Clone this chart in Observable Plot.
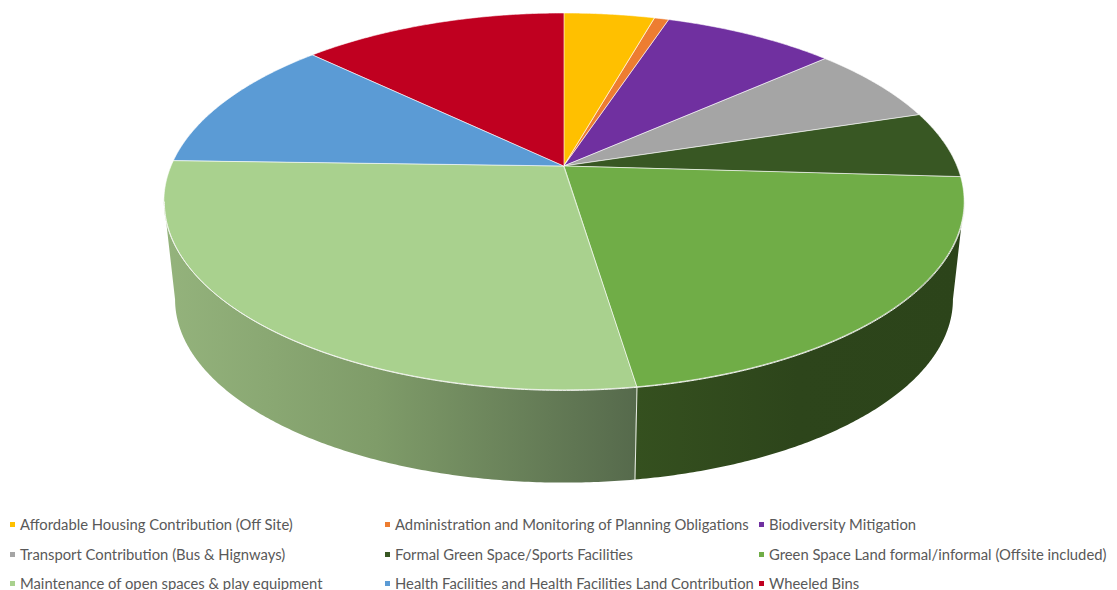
<!DOCTYPE html>
<html>
<head>
<meta charset="utf-8">
<script src="https://cdn.jsdelivr.net/npm/d3@7"></script>
<script src="https://cdn.jsdelivr.net/npm/@observablehq/plot@0.6"></script>
<style>
  html, body { margin: 0; padding: 0; background: #fff; overflow: hidden; width: 1117px; height: 590px; }
  #chart svg { display: block; }
  #legend { position: absolute; left: 0; top: 509px; width: 1117px; height: 81px;
            font-family: Lato, "Open Sans", sans-serif; font-size: 14.8px; color: #595959; }
  #legend .item { position: absolute; white-space: nowrap; height: 30px; line-height: 30px; }
  #legend .sw { position: absolute; left: -10px; top: 13px; width: 5px; height: 5px; }
</style>
</head>
<body>
<div id="chart"></div>
<div id="legend"></div>
<script>
const categories = [
  "Affordable Housing Contribution (Off Site)",
  "Administration and Monitoring of Planning Obligations",
  "Biodiversity Mitigation",
  "Transport Contribution (Bus & Hignways)",
  "Formal Green Space/Sports Facilities",
  "Green Space Land formal/informal (Offsite included)",
  "Maintenance of open spaces & play equipment",
  "Health Facilities and Health Facilities Land Contribution",
  "Wheeled Bins"
];
const shares = [4.4, 0.7, 8.35, 6.75, 5.75, 21.65, 27.9, 11.65, 12.85];
const colors = ["#FFC000", "#ED7D31", "#7030A0", "#A5A5A5", "#385723", "#70AD47", "#A9D18E", "#5B9BD5", "#C00020"];

// Tilted-disc view settings
const tilt = 0.188, shrink = 0.972, drop = 0.539;
const rimCentre = -tilt / (1 - tilt * tilt);
const silhouette = Math.acos(-tilt);

const top3d = t => {
  const w = 1 + tilt * Math.cos(t);
  return [Math.sin(t) / w, Math.cos(t) / w];
};
const base3d = t => {
  const [x, y] = top3d(t);
  return [x * shrink, (y - rimCentre) * shrink + rimCentre - drop];
};

const arcs = d3.pie().sort(null).value(d => d)(shares);
const sweep = (a, b) => {
  const n = Math.max(2, Math.ceil((b - a) / (Math.PI / 360)));
  return d3.range(n + 1).map(i => a + (b - a) * i / n);
};

const topRows = arcs.flatMap((s, i) => sweep(s.startAngle, s.endAngle).map(t => {
  const [x, y] = top3d(t);
  return { name: categories[i], x, y };
}));

const wallRows = (from, to) => sweep(from, to).map(t => {
  const [x1, y1] = top3d(t), [x2, y2] = base3d(t);
  return { x1, y1, x2, y2 };
});
const rightWall = wallRows(silhouette, arcs[5].endAngle);
const leftWall = wallRows(arcs[6].startAngle, 2 * Math.PI - silhouette);
const seam = (() => {
  const t = arcs[6].startAngle;
  const [x1, y1] = top3d(t), [x2, y2] = base3d(t);
  return [{ x: x1, y: y1 }, { x: x2, y: y2 }];
})();
const rim = sweep(silhouette, 2 * Math.PI - silhouette).map(t => {
  const [x, y] = top3d(t);
  return { x, y };
});

const gradients = () => {
  const defs = d3.create("svg:defs");
  const add = (id, x1, x2, stops) => {
    const g = defs.append("linearGradient").attr("id", id)
      .attr("gradientUnits", "userSpaceOnUse")
      .attr("x1", x1).attr("x2", x2).attr("y1", 0).attr("y2", 0);
    stops.forEach(([o, c]) => g.append("stop").attr("offset", o).attr("stop-color", c));
  };
  add("wall-left", 165, 636, [[0, "#94B37C"], [0.45, "#7F9C69"], [1, "#566A4C"]]);
  add("wall-right", 636, 960, [[0, "#35501F"], [0.5, "#2D451B"], [1, "#2C441A"]]);
  return defs.node();
};

const chart = Plot.plot({
  width: 1117,
  height: 509,
  margin: 0,
  x: { axis: null, domain: [-1, 1], range: [171, 957] },
  y: { axis: null, domain: [-1, 1], range: [347.8, -15.8] },
  color: { domain: categories, range: colors },
  marks: [
    gradients,
    Plot.area(leftWall, { x1: "x1", y1: "y1", x2: "x2", y2: "y2", fill: "url(#wall-left)" }),
    Plot.area(rightWall, { x1: "x1", y1: "y1", x2: "x2", y2: "y2", fill: "url(#wall-right)" }),
    Plot.line(seam, { x: "x", y: "y", stroke: "#e8ece4", strokeWidth: 1 }),
    Plot.area(topRows, {
      x1: () => 0, y1: () => 0, x2: "x", y2: "y", z: "name", fill: "name",
      stroke: "#fff", strokeWidth: 0.8, strokeOpacity: 0.75
    }),
    Plot.line(rim, { x: "x", y: "y", stroke: "#f2f5ee", strokeWidth: 1 })
  ]
});
document.getElementById("chart").append(chart);

const legendX = [20, 395, 769];
const legend = document.getElementById("legend");
categories.forEach((name, i) => {
  const item = document.createElement("div");
  item.className = "item";
  item.style.left = legendX[i % 3] + "px";
  item.style.top = Math.floor(i / 3) * 29.5 + "px";
  const sw = document.createElement("span");
  sw.className = "sw";
  sw.style.background = colors[i];
  item.append(sw, document.createTextNode(name));
  legend.append(item);
});
</script>
</body>
</html>
